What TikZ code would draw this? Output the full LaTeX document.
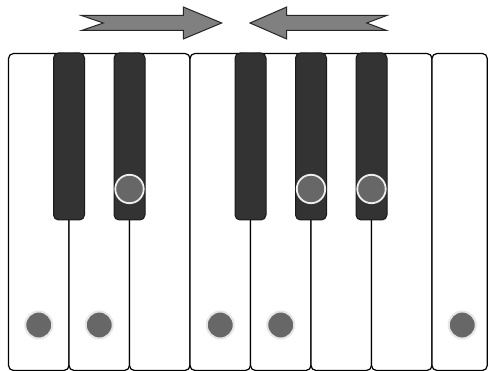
\documentclass[tikz,border=0pt]{standalone}
\usetikzlibrary{shapes.geometric}
\definecolor{blackkey}{HTML}{333333}
\definecolor{dotgray}{HTML}{676767}
\definecolor{arrowgray}{HTML}{808080}
\definecolor{halo}{HTML}{E6E6E6}
\definecolor{ring}{HTML}{EEEEEE}
\tikzset{
  whitekey/.style={draw=black, fill=white, line width=1.2pt, rounded corners=5pt},
  blackkeystyle/.style={draw=black!90, fill=blackkey, line width=1pt, rounded corners=5pt},
  wdot/.style={draw=halo, fill=dotgray, line width=2pt},
  bdot/.style={draw=ring, fill=dotgray, line width=1.8pt},
  bigarrow/.style={draw=black!85, fill=arrowgray, line width=1pt, line join=miter},
}
\begin{document}
\begin{tikzpicture}[x=1pt,y=-1pt]
\useasboundingbox (0,0) rectangle (488,371);
\fill[white] (0,0) rectangle (488,371);
% white keys
\foreach \i in {0,...,6} {
  \draw[whitekey] ({8.5+60.5*\i},53.5) rectangle ({8.5+60.5*(\i+1)},370.5);
}
\draw[whitekey] (432,53.5) rectangle (487.3,370.5);
% black keys
\foreach \c in {69,129.5,250.5,311,371.5} {
  \draw[blackkeystyle] ({\c-15.5},53) rectangle ({\c+15.5},220);
}
% dots on white keys
\foreach \c in {38.75,99.25,220.25,280.75,462.25} {
  \draw[wdot] (\c,325) circle (13.5);
}
% dots on black keys
\foreach \c in {129.5,311,371.5} {
  \draw[bdot] (\c,189) circle (14.2);
}
% arrows
\draw[bigarrow] (81.5,15.5) -- (183.3,15.5) -- (183.3,7) -- (221.7,23) -- (183.3,39) -- (183.3,30.5) -- (81.5,30.5) -- (103.3,23) -- cycle;
\draw[bigarrow] (386.7,15.5) -- (286.7,15.5) -- (286.7,7) -- (250,23) -- (286.7,39) -- (286.7,30.5) -- (386.7,30.5) -- (366.7,23) -- cycle;
\end{tikzpicture}
\end{document}
